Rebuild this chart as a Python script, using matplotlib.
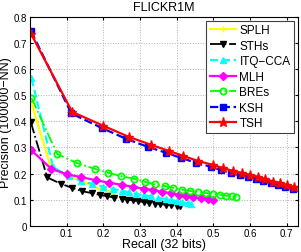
import matplotlib

matplotlib.use("Agg")
import matplotlib.pyplot as plt  # noqa: E402

plt.rcParams.update({
    "font.family": ["Liberation Sans", "DejaVu Sans"],
    "font.size": 7,
    "xtick.direction": "in",
    "ytick.direction": "in",
    "xtick.top": True,
    "ytick.right": True,
    "xtick.major.size": 2.5,
    "ytick.major.size": 2.5,
})

# recall / precision per method
splh_x = [0.004, 0.055, 0.104, 0.142, 0.19, 0.226]
splh_y = [0.47, 0.232, 0.19, 0.171, 0.141, 0.127]

sths_x = [0.002, 0.047, 0.085, 0.115, 0.142, 0.168, 0.19, 0.21, 0.23, 0.25,
          0.265, 0.28, 0.295, 0.31, 0.325, 0.34, 0.355, 0.37, 0.385, 0.40, 0.41]
sths_y = [0.397, 0.185, 0.16, 0.145, 0.132, 0.125, 0.118, 0.113, 0.108, 0.104,
          0.1, 0.097, 0.094, 0.091, 0.088, 0.085, 0.083, 0.08, 0.078, 0.076, 0.074]

itq_x = [0.004, 0.063, 0.105, 0.14, 0.17, 0.2, 0.225, 0.25, 0.27, 0.29,
         0.31, 0.33, 0.35, 0.37, 0.385, 0.4, 0.415, 0.43, 0.44]
itq_y = [0.565, 0.225, 0.19, 0.172, 0.16, 0.15, 0.141, 0.134, 0.128, 0.122,
         0.117, 0.112, 0.107, 0.102, 0.098, 0.094, 0.09, 0.086, 0.083]

mlh_x = [0.003, 0.058, 0.1, 0.14, 0.18, 0.215, 0.25, 0.28, 0.31, 0.335,
         0.36, 0.385, 0.405, 0.425, 0.445, 0.465, 0.485, 0.5]
mlh_y = [0.29, 0.218, 0.197, 0.186, 0.174, 0.165, 0.157, 0.149, 0.142, 0.136,
         0.13, 0.124, 0.119, 0.114, 0.109, 0.105, 0.101, 0.098]

bres_x = [0.004, 0.074, 0.128, 0.177, 0.213, 0.248, 0.283, 0.314, 0.341, 0.368,
          0.39, 0.415, 0.436, 0.458, 0.48, 0.5, 0.518, 0.535, 0.55, 0.562]
bres_y = [0.49, 0.275, 0.24, 0.218, 0.203, 0.19, 0.18, 0.168, 0.158, 0.152,
          0.145, 0.138, 0.133, 0.129, 0.125, 0.122, 0.118, 0.115, 0.112, 0.11]

ksh_x = [0.003, 0.113, 0.195, 0.262, 0.322, 0.372, 0.412, 0.452, 0.493, 0.52,
         0.548, 0.572, 0.594, 0.616, 0.636, 0.657, 0.676, 0.695, 0.716]
ksh_y = [0.745, 0.43, 0.375, 0.333, 0.302, 0.279, 0.26, 0.241, 0.226, 0.214,
         0.203, 0.195, 0.188, 0.18, 0.172, 0.162, 0.157, 0.149, 0.141]

tsh_x = [0.003, 0.115, 0.2, 0.27, 0.33, 0.378, 0.417, 0.458, 0.499, 0.526,
         0.554, 0.578, 0.6, 0.622, 0.641, 0.663, 0.682, 0.701, 0.72]
tsh_y = [0.735, 0.436, 0.383, 0.34, 0.31, 0.287, 0.268, 0.248, 0.233, 0.221,
         0.21, 0.202, 0.195, 0.187, 0.179, 0.169, 0.164, 0.156, 0.148]

fig = plt.figure(figsize=(3.01, 2.53), dpi=100)
ax = fig.add_axes([0.0997, 0.104, 0.8893, 0.825])

ms = 4.5
ax.plot(splh_x, splh_y, "-", color="#ffff00", lw=1.6, marker="+", ms=ms, label="SPLH")
ax.plot(sths_x, sths_y, "-.", color="black", lw=1.3, marker="v", ms=ms, label="STHs")
ax.plot(itq_x, itq_y, "--", color="#00ffff", lw=1.6, marker="^", ms=ms, label="ITQ\u2212CCA")
ax.plot(mlh_x, mlh_y, "-", color="#ff00ff", lw=1.6, marker="D", ms=3.8, label="MLH")
ax.plot(bres_x, bres_y, "-.", color="#00ff00", lw=1.3, marker="o", ms=ms,
        mfc="none", mew=1.3, label="BREs")
ax.plot(ksh_x, ksh_y, "--", color="#0000ff", lw=1.6, marker="s", ms=3.8, label="KSH")
ax.plot(tsh_x, tsh_y, "-", color="#ff0000", lw=1.6, marker="*", ms=6.5, label="TSH")

ax.set_xlim(0, 0.73)
ax.set_ylim(0, 0.8)
ax.set_xticks([0.1, 0.2, 0.3, 0.4, 0.5, 0.6, 0.7])
ax.set_yticks([0, 0.1, 0.2, 0.3, 0.4, 0.5, 0.6, 0.7, 0.8])
ax.set_xticklabels(["0.1", "0.2", "0.3", "0.4", "0.5", "0.6", "0.7"])
ax.set_yticklabels(["0", "0.1", "0.2", "0.3", "0.4", "0.5", "0.6", "0.7", "0.8"])
ax.grid(True, ls=":", color="#b0b0b0", lw=0.7)
ax.tick_params(pad=2)

ax.set_xlabel("Recall (32 bits)", fontsize=9, labelpad=0)
ax.set_ylabel("Precision (100000\u2212NN)", fontsize=9, labelpad=1)
ax.set_title("FLICKR1M", fontsize=9, pad=5)

leg = ax.legend(loc="upper right", fontsize=8.5, handlelength=2.2, handletextpad=0.3,
                borderpad=0.3, labelspacing=0.3, fancybox=False, framealpha=1,
                borderaxespad=0.3)
leg.get_frame().set_edgecolor("#404040")
leg.get_frame().set_linewidth(0.8)

fig.savefig("out.png", dpi=100)
